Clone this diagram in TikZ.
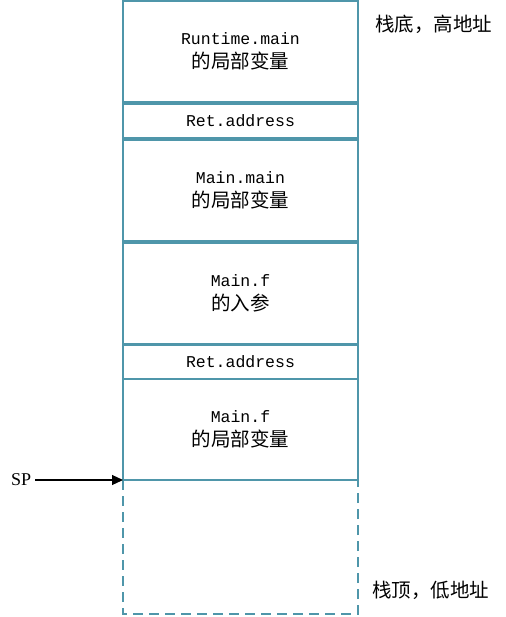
\documentclass[tikz,border=0pt]{standalone}
\usepackage{fontspec}
\setmainfont{Liberation Serif}
\newfontfamily\cjkfont{Noto Sans CJK SC}
\newfontfamily\codefont{Liberation Mono}
\usetikzlibrary{arrows.meta}
\definecolor{frameblue}{HTML}{4F96AA}
\tikzset{
  frame/.style={draw=frameblue, line width=1.2pt},
  stackcell/.style={frame, fill=white},
  celltext/.style={align=center, inner sep=0pt, font=\fontsize{16}{24}\selectfont},
  sidenote/.style={inner sep=0pt, font=\cjkfont\fontsize{19.5}{21}\selectfont},
}
\newcommand{\cn}[1]{{\cjkfont\fontsize{19.5}{24}\selectfont #1}}
\newcommand{\cd}[1]{{\codefont\fontsize{16.5}{24}\selectfont #1}}
\begin{document}
\begin{tikzpicture}[x=1pt,y=-1pt]
\useasboundingbox (0,0) rectangle (505,617);
% free area below the stack pointer
\draw[frame, dash pattern=on 10pt off 6pt] (123,480) -- (123,614) -- (358,614) -- (358,480);
% stack frames, from bottom (high address) to top
\draw[stackcell] (123,1) rectangle (358,102);
\node[celltext] (t1) at (240.5,51.5) {\cd{Runtime.main}\\\cn{的局部变量}};
\draw[stackcell] (123,104) rectangle (358,138);
\node[celltext] (t2) at (240.5,121) {\cd{Ret.address}};
\draw[stackcell] (123,140) rectangle (358,241);
\node[celltext] (t3) at (240.5,190.5) {\cd{Main.main}\\\cn{的局部变量}};
\draw[stackcell] (123,243) rectangle (358,344);
\node[celltext] (t4) at (240.5,293.5) {\cd{Main.f}\\\cn{的入参}};
\draw[stackcell] (123,345) rectangle (358,379);
\node[celltext] (t5) at (240.5,362) {\cd{Ret.address}};
\draw[stackcell] (123,379) rectangle (358,480);
\node[celltext] (t6) at (240.5,429.5) {\cd{Main.f}\\\cn{的局部变量}};
% labels
\node[sidenote, anchor=west] (hi) at (375,24) {栈底，高地址};
\node[sidenote, anchor=west] (lo) at (372,590) {栈顶，低地址};
% stack pointer
\node[inner sep=0pt, anchor=west, font=\fontsize{18}{20}\selectfont] (sp) at (11,480) {SP};
\coordinate (sptop) at (123,480);
\draw[line width=1.2pt, -{Triangle[length=11pt,width=10pt]}] ([xshift=4pt]sp.east) -- (sptop);
\end{tikzpicture}
\end{document}
